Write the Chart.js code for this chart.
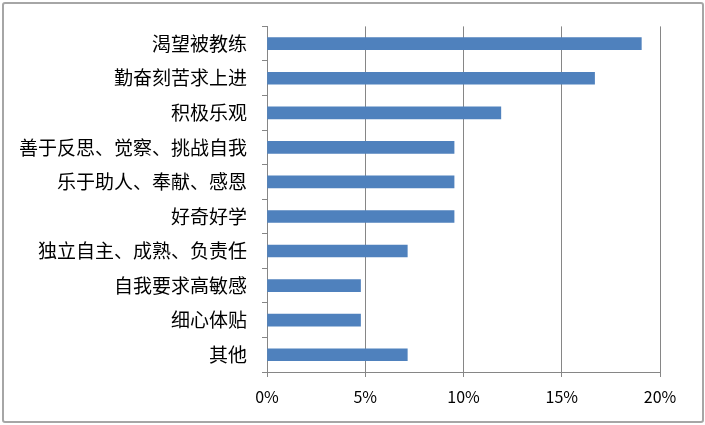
<!DOCTYPE html>
<html lang="zh">
<head>
    <meta charset="UTF-8">
    <title>Bar chart</title>
    <style>
        body {
            margin: 0;
            background: #fff;
        }

        #frame {
            position: absolute;
            left: 2px;
            top: 2px;
            width: 698px;
            height: 417px;
            border: 2px solid #a6a6a6;
            border-radius: 3px;
        }

        #chart-container {
            position: absolute;
            left: 0;
            top: 0;
            width: 705px;
            height: 425px;
        }
    </style>
</head>
<body>
<div id="frame"></div>
<div id="chart-container">
    <canvas id="bar-chart"></canvas>
</div>
<script src="https://cdn.jsdelivr.net/npm/chart.js@4.4.1/dist/chart.umd.min.js"></script>
<script>
    const categories = ["渴望被教练", "勤奋刻苦求上进", "积极乐观", "善于反思、觉察、挑战自我", "乐于助人、奉献、感恩",
        "好奇好学", "独立自主、成熟、负责任", "自我要求高敏感", "细心体贴", "其他"];
    const shares = [19.05, 16.67, 11.9, 9.52, 9.52, 9.52, 7.14, 4.76, 4.76, 7.14];
    const xTicks = [0, 5, 10, 15, 20];

    const axisGray = "#868686";

    new Chart("bar-chart", {
        type: "bar",
        data: {
            labels: categories,
            datasets: [{
                data: shares,
                backgroundColor: "#4f81bd",
                barThickness: 12
            }]
        },
        options: {
            indexAxis: "y",
            responsive: true,
            maintainAspectRatio: false,
            animation: false,
            layout: {
                padding: {top: 23, right: 45, bottom: 0, left: 0}
            },
            plugins: {
                legend: {display: false},
                tooltip: {enabled: false}
            },
            scales: {
                x: {
                    min: 0,
                    max: 20,
                    afterBuildTicks: axis => {
                        axis.ticks = xTicks.map(v => ({value: v}));
                    },
                    afterFit: axis => {
                        axis.height = 53;
                    },
                    grid: {
                        color: axisGray,
                        tickLength: 5
                    },
                    border: {color: axisGray},
                    ticks: {
                        color: "#000",
                        padding: 10,
                        font: {family: "'Noto Sans CJK SC'", size: 16},
                        callback: v => v + "%"
                    }
                },
                y: {
                    afterFit: axis => {
                        axis.width = 267;
                    },
                    grid: {
                        color: axisGray,
                        drawOnChartArea: false,
                        tickLength: 5
                    },
                    border: {color: axisGray},
                    ticks: {
                        color: "#000",
                        padding: 15,
                        font: {family: "'Noto Sans CJK SC'", size: 19}
                    }
                }
            }
        }
    });
</script>
</body>
</html>
